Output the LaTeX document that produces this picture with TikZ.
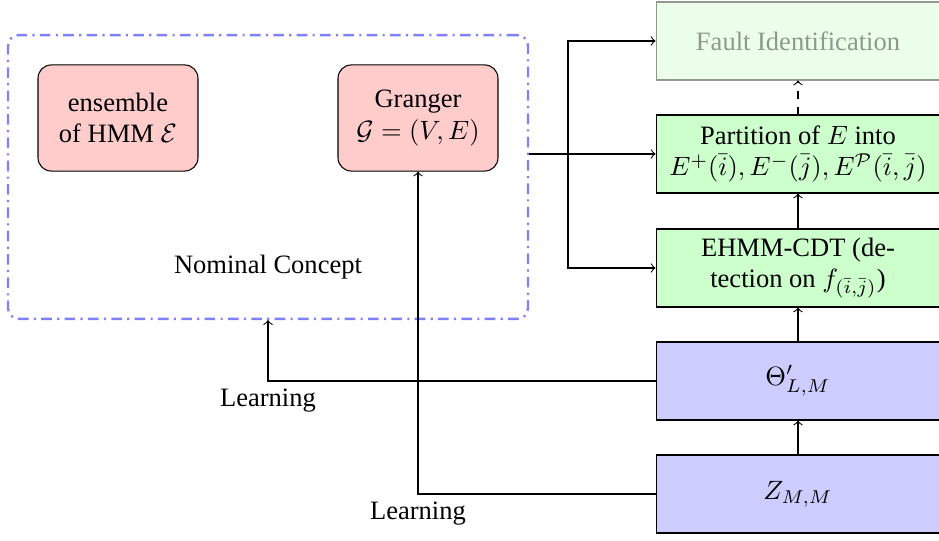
\documentclass[tikz,border=0pt]{standalone}
\usepackage[no-math]{fontspec}
\setmainfont{Liberation Serif}
\begin{document}
\begin{tikzpicture}[x=0.377pt, y=-0.377pt, >=to,
  concept/.style={draw, rounded corners=5pt, fill=red!20, minimum width=60.3pt,
    minimum height=40pt, align=center, inner sep=0pt},
  stage/.style={draw, fill=green!20, minimum width=107pt, minimum height=29.4pt,
    align=center, inner sep=0pt},
  datum/.style={stage, fill=blue!20},
  frame/.style={draw=blue!50, line width=0.9pt, dash pattern=on 4pt off 2pt on 0.8pt off 2pt,
    rounded corners=4pt, minimum width=196pt, minimum height=107pt, inner sep=0pt},
  faded/.style={opacity=0.4}]
  \useasboundingbox (0,0) rectangle (939,541);

  % nominal concept group
  \node[frame] (nominal) at (268,177) {};
  \node[concept] (ens) at (118,118) {ensemble\\of HMM $\mathcal{E}$};
  \node[concept] (gr) at (418,118) {Granger\\$\mathcal{G}=(V,E)$};
  \node (nomlabel) at (268,267) {Nominal Concept};

  % processing chain
  \node[stage, faded] (fault) at (798,41) {Fault Identification};
  \node[stage] (part) at (798,154) {Partition of $E$ into\\$E^+(\bar{i}), E^-(\bar{j}), E^{\mathcal{P}}(\bar{i},\bar{j})$};
  \node[stage] (cdt) at (798,268) {EHMM-CDT (de-\\tection on $f_{(\bar{i},\bar{j})}$)};
  \node[datum] (theta) at (798,381) {$\Theta'_{L,M}$};
  \node[datum] (z) at (798,494) {$Z_{M,M}$};

  \draw[->, dashed] (part) -- (fault);
  \draw[->] (cdt) -- (part);
  \draw[->] (theta) -- (cdt);
  \draw[->] (z) -- (theta);

  % feed from the nominal concept
  \coordinate (split) at (568,154);
  \draw (nominal.east |- part.west) -- (split);
  \draw[->] (split) |- (fault.west);
  \draw[->] (split) -- (part.west);
  \draw[->] (split) |- (cdt.west);

  % learning paths
  \draw[->] (theta.west) -| (nominal.south);
  \node (learn1) at (268,401) {Learning};
  \draw[->] (z.west) -| (gr.south);
  \node (learn2) at (418,514) {Learning};
\end{tikzpicture}
\end{document}
